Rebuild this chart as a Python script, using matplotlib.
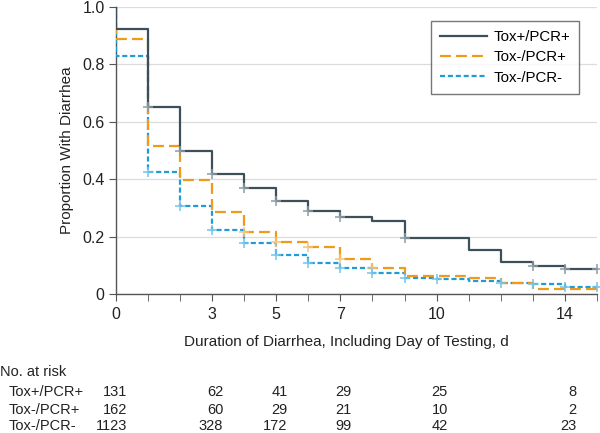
import matplotlib
matplotlib.use("Agg")
import matplotlib.pyplot as plt
import matplotlib.transforms as mtransforms
from matplotlib.lines import Line2D

plt.rcParams['font.family'] = ['Liberation Sans', 'DejaVu Sans']

# ---- data ----
days = list(range(16))
groups = ["Tox+/PCR+", "Tox-/PCR+", "Tox-/PCR-"]
tox_pos_pcr_pos = [0.924, 0.650, 0.499, 0.419, 0.370, 0.324, 0.288, 0.267, 0.255,
                   0.196, 0.196, 0.152, 0.110, 0.099, 0.086]
tox_neg_pcr_pos = [0.887, 0.516, 0.398, 0.287, 0.217, 0.180, 0.164, 0.121, 0.092,
                   0.063, 0.063, 0.055, 0.039, 0.018, 0.018]
tox_neg_pcr_neg = [0.829, 0.426, 0.307, 0.223, 0.176, 0.135, 0.109, 0.092, 0.072,
                   0.057, 0.051, 0.046, 0.039, 0.035, 0.024]
censor_tox_pos_pcr_pos = [1, 2, 3, 4, 5, 6, 7, 9, 13, 14, 15]
censor_tox_neg_pcr_pos = [4, 5, 6, 7, 8]
censor_tox_neg_pcr_neg = [1, 2, 3, 4, 5, 6, 7, 8, 9, 10, 12, 13, 14, 15]

risk_times = [0, 3, 5, 7, 10, 14]
risk_tox_pos_pcr_pos = [131, 62, 41, 29, 25, 8]
risk_tox_neg_pcr_pos = [162, 60, 29, 21, 10, 2]
risk_tox_neg_pcr_neg = [1123, 328, 172, 99, 42, 23]

xticks_major = [0, 3, 5, 7, 10, 14]
yticks = [0, 0.2, 0.4, 0.6, 0.8, 1.0]
ytick_labels = ["0", "0.2", "0.4", "0.6", "0.8", "1.0"]

# ---- styling ----
colors = ["#3d5059", "#f09a1a", "#1f9bd7"]
marker_colors = ["#8c9ca5", "#f6c27e", "#74c4ea"]
dashes = [None, (4.9, 2.3), (2.3, 1.25)]
LW = 1.6
FS = 10.5

fig = plt.figure(figsize=(6.0, 4.33), dpi=100)
ax = fig.add_axes([0.193, 0.321, 0.802, 0.663])

series = [tox_pos_pcr_pos, tox_neg_pcr_pos, tox_neg_pcr_neg]
censors = [censor_tox_pos_pcr_pos, censor_tox_neg_pcr_pos, censor_tox_neg_pcr_neg]

for gi in range(3):
    vals = series[gi]
    xs = [0] + days
    ys = [1.0] + vals + [vals[-1]]
    ln, = ax.step(xs, ys, color=colors[gi], lw=LW, where='post', label=groups[gi],
                  zorder=3 - gi * 0.1)
    if dashes[gi] is not None:
        ln.set_dashes(dashes[gi])
    cx = censors[gi]
    cy = [vals[min(t, len(vals) - 1)] for t in cx]
    ax.plot(cx, cy, linestyle='none', marker='+', markersize=6.5, mew=1.1,
            color=marker_colors[gi], zorder=4, clip_on=False)

ax.set_xlim(0, 15)
ax.set_ylim(0, 1.0)
ax.set_xticks(xticks_major)
ax.set_xticks(range(16), minor=True)
ax.set_yticks(yticks)
ax.set_yticklabels(ytick_labels)
ax.grid(axis='y', color='#dcdcdc', lw=0.9)
ax.set_axisbelow(True)
for s in ['top', 'right']:
    ax.spines[s].set_visible(False)
for s in ['left', 'bottom']:
    ax.spines[s].set_color('#555555')
    ax.spines[s].set_linewidth(1.0)
ax.tick_params(axis='both', which='both', direction='out', length=5, color='#555555',
               labelsize=11.5, labelcolor='#222222')
ax.tick_params(axis='x', pad=4)
ax.tick_params(axis='y', pad=3)

ax.set_xlabel("Duration of Diarrhea, Including Day of Testing, d", fontsize=11,
              color='#222222')
ax.xaxis.set_label_coords(0.48, -0.142)
ax.set_ylabel("Proportion With Diarrhea", fontsize=11, color='#222222', labelpad=6)

handles = []
for gi in range(3):
    h = Line2D([0], [0], color=colors[gi], lw=LW)
    if dashes[gi] is not None:
        h.set_dashes(dashes[gi])
    handles.append(h)
leg = ax.legend(handles, groups, loc='upper right', bbox_to_anchor=(0.963, 0.951),
                borderaxespad=0, fontsize=FS + 0.3, frameon=True, fancybox=False,
                handlelength=3.1, borderpad=0.6, labelspacing=0.42, handletextpad=0.45)
leg.get_frame().set_edgecolor('#555555')
leg.get_frame().set_linewidth(1.0)

# ---- number at risk table ----
trans = mtransforms.blended_transform_factory(ax.transData, fig.transFigure)
fig.text(0.0, 1 - 372 / 433, "No. at risk", fontsize=FS, va='center', ha='left',
         color='#222222')
rows = [risk_tox_pos_pcr_pos, risk_tox_neg_pcr_pos, risk_tox_neg_pcr_neg]
row_y = [1 - 391.5 / 433, 1 - 409.5 / 433, 1 - 426.5 / 433]
for gi in range(3):
    fig.text(9 / 600, row_y[gi], groups[gi], fontsize=FS, va='center', ha='left',
             color='#222222')
    for t, n in zip(risk_times, rows[gi]):
        ax.text(t + 0.35, row_y[gi], str(n), transform=trans, fontsize=FS,
                va='center', ha='right', color='#222222')

fig.savefig("out.png", dpi=100)
